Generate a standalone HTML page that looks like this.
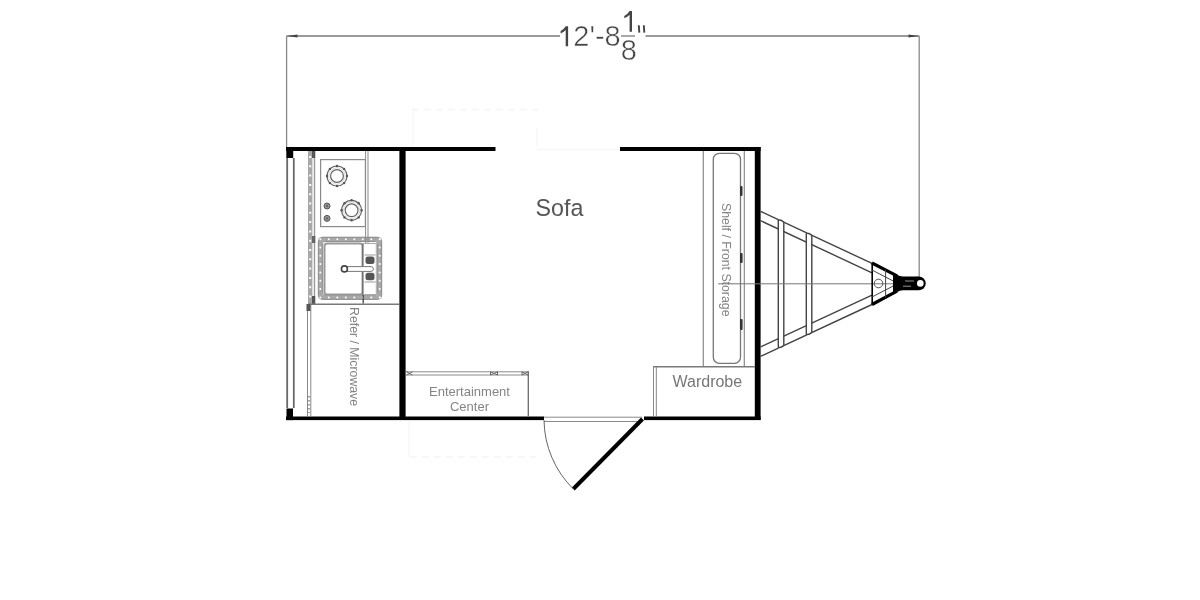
<!DOCTYPE html>
<html><head><meta charset="utf-8">
<style>
html,body{margin:0;padding:0;background:#fff;width:1200px;height:600px;overflow:hidden}
svg{display:block;will-change:transform}
text{font-family:"Liberation Sans",sans-serif}
</style></head>
<body>
<svg width="1200" height="600" viewBox="0 0 1200 600">
<rect width="1200" height="600" fill="#fff"/>

<!-- faint ghost lines -->
<g stroke="#f4f4f4" stroke-width="1.3" fill="none">
  <path d="M412 109.5 H539" stroke-dasharray="7 5"/>
  <path d="M413 110 V147" stroke="#f7f7f7"/>
  <path d="M537 128 V147 M537 149.5 H620" stroke="#f6f6f6"/>
  <path d="M410 457 H536" stroke="#f5f5f5" stroke-dasharray="7 5"/>
  <path d="M409 421 V457" stroke="#f8f8f8"/>
</g>

<!-- dimension -->
<g stroke="#7a7a7a" stroke-width="1.3" fill="none">
  <path d="M286.6 36 H560 M645.5 36 H919.2"/>
  <path d="M286.6 36 V147" stroke="#8a8a8a"/>
  <path d="M919.2 36 V277" stroke="#8a8a8a"/>
  <path d="M621 36 H635"/>
</g>
<path d="M287 36 L297.5 34.4 L297.5 37.6 Z" fill="#444"/>
<path d="M919 36 L908.5 34.4 L908.5 37.6 Z" fill="#444"/>
<g fill="#444" font-size="29" stroke="#fff" stroke-width="0.5">
  <text x="573.3" y="46.3">2'-8</text>
  <text x="620.7" y="60">8</text>
</g>
<path d="M565.7 26.3 H568.1 V46.3 H565.7 V30 Q563.6 32.2 560.6 33.4 V31 Q563.9 29.4 565.7 26.3 Z" fill="#444"/>
<path d="M629.6 11 H632 V31.7 H629.6 V14.8 Q627.5 17 624.3 18.3 V15.9 Q627.8 14.2 629.6 11 Z" fill="#444"/>
<path d="M638.8 25.3 L639.3 32.6 M643.8 25.3 L644.3 32.6" stroke="#444" stroke-width="1.9"/>

<!-- walls -->
<g fill="#000">
  <rect x="286" y="147" width="209.5" height="4"/>
  <rect x="620" y="147" width="140.6" height="4"/>
  <rect x="286.3" y="147" width="6.9" height="11"/>
  <rect x="286.5" y="408.5" width="6.5" height="11.6"/>
  <rect x="286" y="416.5" width="258" height="3.6"/>
  <rect x="644" y="416.5" width="116.6" height="3.6"/>
  <rect x="754.8" y="147" width="5.8" height="273"/>
  <rect x="399.4" y="147" width="6.2" height="273"/>
</g>
<g stroke="#6a6a6a" stroke-width="1.8">
  <path d="M287.2 158 V408 M293.8 158 V408"/>
</g>

<!-- kitchen wall band (dotted) -->
<rect x="308" y="151" width="4.4" height="153" fill="#a8a8a8"/>
<path d="M310.2 156 V304" stroke="#fff" stroke-width="2" stroke-dasharray="2 7.3"/>
<path d="M314.5 151 V304" stroke="#999" stroke-width="1.4"/>
<rect x="312" y="151" width="3.2" height="7" fill="#555"/>
<rect x="312" y="296" width="3.2" height="8" fill="#555"/>


<!-- stovetop -->
<rect x="320.6" y="159.6" width="44.8" height="67" fill="none" stroke="#8a8a8a" stroke-width="1.2"/>
<circle cx="337" cy="176" r="10" fill="none" stroke="#666" stroke-width="1.2"/>
<circle cx="337" cy="176" r="8.2" fill="none" stroke="#d0d0d0" stroke-width="0.8"/>
<circle cx="337" cy="176" r="6.4" fill="none" stroke="#666" stroke-width="1.2"/>
<circle cx="337.0" cy="166.0" r="1.2" fill="#555"/>
<circle cx="329.9" cy="168.9" r="1.2" fill="#555"/>
<circle cx="327.0" cy="176.0" r="1.2" fill="#555"/>
<circle cx="329.9" cy="183.1" r="1.2" fill="#555"/>
<circle cx="337.0" cy="186.0" r="1.2" fill="#555"/>
<circle cx="344.1" cy="183.1" r="1.2" fill="#555"/>
<circle cx="347.0" cy="176.0" r="1.2" fill="#555"/>
<circle cx="344.1" cy="168.9" r="1.2" fill="#555"/>
<circle cx="351.6" cy="210.3" r="10" fill="none" stroke="#666" stroke-width="1.2"/>
<circle cx="351.6" cy="210.3" r="8.2" fill="none" stroke="#d0d0d0" stroke-width="0.8"/>
<circle cx="351.6" cy="210.3" r="6.4" fill="none" stroke="#666" stroke-width="1.2"/>
<circle cx="351.6" cy="200.3" r="1.2" fill="#555"/>
<circle cx="344.5" cy="203.2" r="1.2" fill="#555"/>
<circle cx="341.6" cy="210.3" r="1.2" fill="#555"/>
<circle cx="344.5" cy="217.4" r="1.2" fill="#555"/>
<circle cx="351.6" cy="220.3" r="1.2" fill="#555"/>
<circle cx="358.7" cy="217.4" r="1.2" fill="#555"/>
<circle cx="361.6" cy="210.3" r="1.2" fill="#555"/>
<circle cx="358.7" cy="203.2" r="1.2" fill="#555"/>
<circle cx="327" cy="206" r="3" fill="#999" stroke="#555" stroke-width="1"/>
<circle cx="327" cy="206" r="1.2" fill="#666"/>
<circle cx="327" cy="218.4" r="3" fill="#999" stroke="#555" stroke-width="1"/>
<circle cx="327" cy="218.4" r="1.2" fill="#666"/>

<!-- sink -->
<rect x="320.3" y="239.2" width="59.4" height="58.2" rx="3" fill="none" stroke="#a8a8a8" stroke-width="4.4"/>
<rect x="318.3" y="237.2" width="63.4" height="62.2" rx="4" fill="none" stroke="#888" stroke-width="0.9"/>
<rect x="322.6" y="241.5" width="54.8" height="53.6" rx="2" fill="none" stroke="#888" stroke-width="0.9"/>
<circle cx="320.3" cy="239.2" r="1" fill="#fff"/>
<circle cx="320.3" cy="297.4" r="1" fill="#fff"/>
<circle cx="328.8" cy="239.2" r="1" fill="#fff"/>
<circle cx="328.8" cy="297.4" r="1" fill="#fff"/>
<circle cx="337.3" cy="239.2" r="1" fill="#fff"/>
<circle cx="337.3" cy="297.4" r="1" fill="#fff"/>
<circle cx="345.8" cy="239.2" r="1" fill="#fff"/>
<circle cx="345.8" cy="297.4" r="1" fill="#fff"/>
<circle cx="354.3" cy="239.2" r="1" fill="#fff"/>
<circle cx="354.3" cy="297.4" r="1" fill="#fff"/>
<circle cx="362.8" cy="239.2" r="1" fill="#fff"/>
<circle cx="362.8" cy="297.4" r="1" fill="#fff"/>
<circle cx="371.3" cy="239.2" r="1" fill="#fff"/>
<circle cx="371.3" cy="297.4" r="1" fill="#fff"/>
<circle cx="379.8" cy="239.2" r="1" fill="#fff"/>
<circle cx="379.8" cy="297.4" r="1" fill="#fff"/>
<circle cx="320.3" cy="247.5" r="1" fill="#fff"/>
<circle cx="379.7" cy="247.5" r="1" fill="#fff"/>
<circle cx="320.3" cy="255.8" r="1" fill="#fff"/>
<circle cx="379.7" cy="255.8" r="1" fill="#fff"/>
<circle cx="320.3" cy="264.1" r="1" fill="#fff"/>
<circle cx="379.7" cy="264.1" r="1" fill="#fff"/>
<circle cx="320.3" cy="272.4" r="1" fill="#fff"/>
<circle cx="379.7" cy="272.4" r="1" fill="#fff"/>
<circle cx="320.3" cy="280.7" r="1" fill="#fff"/>
<circle cx="379.7" cy="280.7" r="1" fill="#fff"/>
<circle cx="320.3" cy="289.0" r="1" fill="#fff"/>
<circle cx="379.7" cy="289.0" r="1" fill="#fff"/>
<circle cx="379.7" cy="239.2" r="1" fill="#fff"/>
<circle cx="379.7" cy="297.4" r="1" fill="#fff"/>
<rect x="324.5" y="243.5" width="38" height="51" rx="2.5" fill="none" stroke="#999" stroke-width="2"/>
<path d="M363.2 243.5 V303.5" stroke="#444" stroke-width="1.3"/>
<path d="M365.6 151 V243.5 M368 151 V243.5" stroke="#8a8a8a" stroke-width="1"/>
<rect x="363.5" y="243.5" width="12.8" height="51" fill="none" stroke="#aaa" stroke-width="1"/>
<rect x="365.5" y="256.5" width="9" height="7.5" rx="2.5" fill="#555"/>
<rect x="365.5" y="272.8" width="9" height="7.5" rx="2.5" fill="#555"/>
<path d="M364.5 255 H375.5 M364.5 282 H375.5" stroke="#999" stroke-width="1"/>
<path d="M347 266.6 H371 A2.4 2.4 0 0 1 371 271.4 H347" fill="#fff" stroke="#777" stroke-width="1"/>
<circle cx="344.4" cy="268.9" r="3" fill="#fff" stroke="#444" stroke-width="1.6"/>
<rect x="312" y="236" width="3.3" height="7" fill="#666"/>

<!-- counter bottom + refer -->
<path d="M308 304.2 H399" stroke="#7a7a7a" stroke-width="1.4"/>
<path d="M307.5 305 V416 M310.8 305 V416" stroke="#888" stroke-width="1"/>
<rect x="306.5" y="304" width="4" height="7" fill="#555"/>
<path d="M309 396 V413" stroke="#666" stroke-width="1.2" stroke-dasharray="1.5 2.5"/>
<text transform="translate(350 307) rotate(90)" font-size="12.3" fill="#858585">Refer / Microwave</text>

<!-- front shelf -->
<path d="M703.3 151 V366.7 M744.3 151 V366.7" stroke="#8a8a8a" stroke-width="1.2"/>
<rect x="713.3" y="153.3" width="27.2" height="210" rx="6" fill="none" stroke="#777" stroke-width="1.3"/>
<g fill="#333">
  <rect x="740" y="186" width="2.5" height="10" rx="1"/>
  <rect x="740" y="253" width="2.6" height="10" rx="1"/>
  <rect x="740" y="319" width="2.6" height="11" rx="1"/>
</g>
<text transform="translate(722 203) rotate(90)" font-size="12.3" fill="#858585">Shelf / Front Storage</text>

<text transform="translate(535.6 215.8) scale(0.99 1)" font-size="23.5" fill="#555">Sofa</text>

<!-- wardrobe -->
<path d="M653 366.7 H755" stroke="#7a7a7a" stroke-width="1.5"/>
<path d="M653.5 367 V416.5 M656.3 367 V416.5" stroke="#888" stroke-width="1"/>
<text x="672.5" y="386.7" font-size="16" fill="#777">Wardrobe</text>

<!-- entertainment center -->
<path d="M406 371.8 H528.5 M406 375 H528.5" stroke="#8a8a8a" stroke-width="1"/>
<path d="M528.3 371.3 V416.5" stroke="#6a6a6a" stroke-width="1.3"/>
<g fill="none" stroke="#666" stroke-width="1">
  <path d="M406.5 371.8 L412.5 375 M406.5 375 L412.5 371.8"/>
  <path d="M490.5 371.8 L497.5 375 M490.5 375 L497.5 371.8 M490.5 371.8 V375 M497.5 371.8 V375"/>
  <path d="M522 371.8 L528 375 M522 375 L528 371.8 M522 371.8 V375"/>
</g>
<text x="469.5" y="395.7" font-size="13" fill="#858585" text-anchor="middle">Entertainment</text>
<text x="469.5" y="411.3" font-size="13" fill="#858585" text-anchor="middle">Center</text>

<!-- door -->
<path d="M544 417.2 H642 M544 421.5 H642" stroke="#8a8a8a" stroke-width="1"/>
<path d="M642.5 419 L573.3 489" stroke="#000" stroke-width="4"/>
<path d="M544 420 A98.5 98.5 0 0 0 573.3 489" stroke="#666" stroke-width="1" fill="none"/>

<!-- tongue -->
<g stroke="#444" stroke-width="1.4" fill="none">
  <path d="M760.6 211.3 L872 263.4"/>
  <path d="M760.6 220.7 L872 272.8"/>
  <path d="M760.6 356.3 L872 304.5"/>
  <path d="M760.6 346.9 L872 295.1"/>
</g>
<rect x="778.9" y="219" width="4.3" height="130" fill="#fff"/>
<rect x="806.9" y="232" width="4.3" height="104" fill="#fff"/>
<g stroke="#444" stroke-width="1.4" fill="none">
  <path d="M778.3 220 V347.5 M783.8 222.5 V345 M778.3 220.2 Q781 219.5 783.8 222.2 M778.3 347.3 Q781 348.2 783.8 345.2"/>
  <path d="M806.3 233.2 V334.5 M811.8 235.7 V332 M806.3 233.4 Q809 232.7 811.8 235.4 M806.3 334.3 Q809 335.2 811.8 332.2"/>
</g>

<!-- centerline -->
<path d="M718 283.8 H905" stroke="#777" stroke-width="1"/>

<!-- hitch -->
<g stroke="#000" fill="none">
  <path d="M872 263 L897 275.8 M872 304.5 L897 291.2" stroke-width="3.2"/>
  <path d="M872.2 263 V304.5" stroke-width="1.6"/>
  <path d="M885.6 269.5 V297.5" stroke="#444" stroke-width="1"/>
  <path d="M872 270 L898 283.5 L872 297" stroke="#444" stroke-width="1"/>
  <circle cx="878.5" cy="283.5" r="4.3" stroke="#555" stroke-width="1"/>
</g>
<path d="M893 272.6 L897 274.8 Q899.5 276.6 903 276.6 H918 V290.3 H903 Q899.5 290.3 897 292.2 L893 294.4 Z" fill="#000"/>
<circle cx="918.8" cy="283.4" r="6.9" fill="#000"/>
<circle cx="920.3" cy="283.4" r="3.3" fill="#fff"/>
<path d="M905 281 H914 M903 286.2 H911" stroke="#bbb" stroke-width="0.8"/>
</svg>
</body></html>
